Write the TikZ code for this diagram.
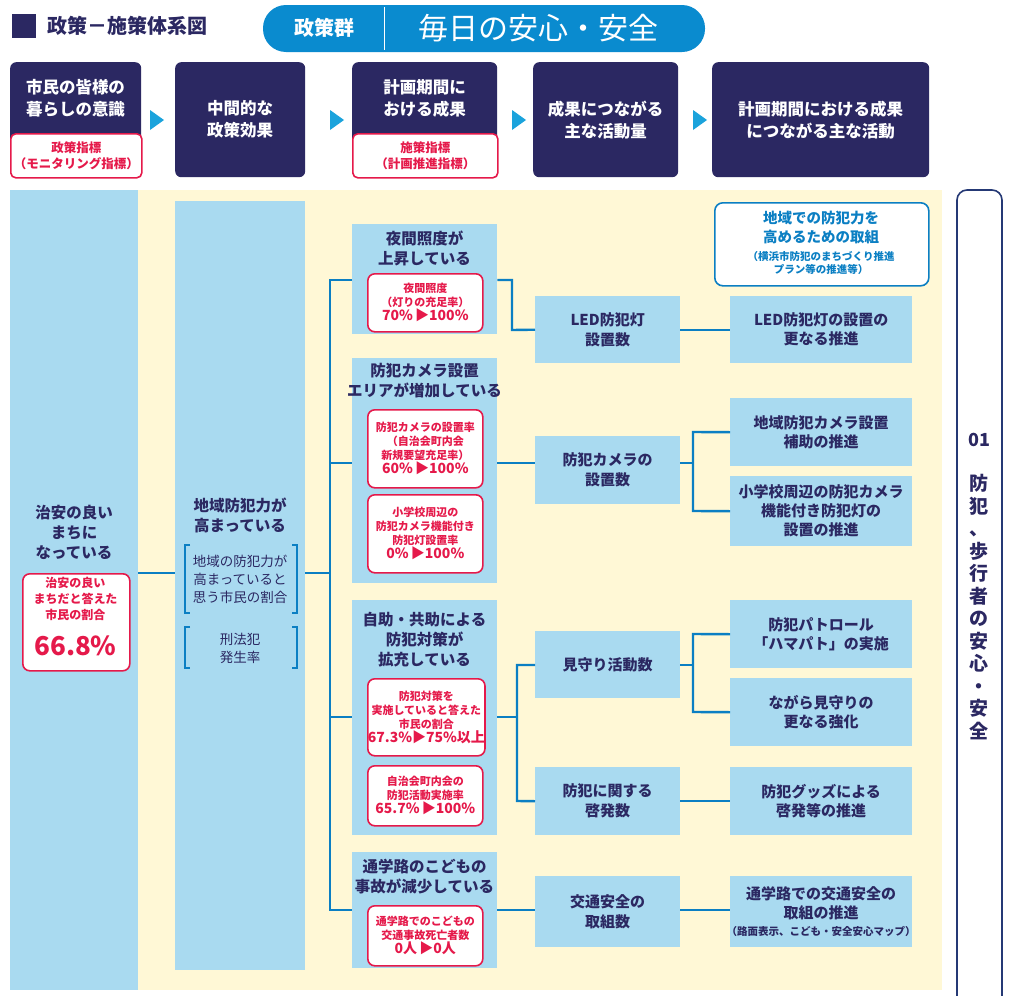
\documentclass[tikz,border=0pt]{standalone}
\usepackage{fontspec}
\setmainfont{Noto Sans CJK JP}
\usetikzlibrary{positioning}
\definecolor{navy}{HTML}{2B2862}
\definecolor{pill}{HTML}{0A8BCF}
\definecolor{lblue}{HTML}{A9DAF0}
\definecolor{cream}{HTML}{FFF8D6}
\definecolor{pink}{HTML}{E5194A}
\definecolor{wireblue}{HTML}{0B7FC3}
\definecolor{tri}{HTML}{1BA3DC}
\tikzset{
  head/.style={fill=navy, rounded corners=6pt, text=white, font=\bfseries\fontsize{16.5}{22}\selectfont, align=center, anchor=north west, inner sep=0pt},
  bluebox/.style={fill=lblue, anchor=north west, inner sep=0pt},
  rbox/.style={draw=pink, line width=1.6pt, fill=white, rounded corners=7pt, anchor=north west, inner sep=0pt, text=pink, align=center, font=\bfseries\fontsize{11}{14}\selectfont},
  ttl/.style={text=navy, align=center, font=\bfseries\fontsize{15.5}{20}\selectfont},
  wire/.style={draw=wireblue, line width=2.4pt},
  bkt/.style={draw=wireblue, line width=1.4pt},
}
\begin{document}
\begin{tikzpicture}[x=1pt,y=-1pt]
\useasboundingbox (0,0) rectangle (1010,996);
% title bar
\fill[navy] (12,14) rectangle (36,38);
\node[anchor=west, text=navy, font=\bfseries\fontsize{20}{22}\selectfont] (title) at (44,26) {政策－施策体系図};
\fill[pill, rounded corners=23pt] (263,5) rectangle (705,52);
\draw[white, line width=1pt] (384,7) -- (384,50);
\node[text=white, font=\bfseries\fontsize{20}{22}\selectfont] (group) at (324,28) {政策群};
\node[text=white, font=\fontsize{30}{32}\selectfont] (theme) at (538,28) {毎日の安心・安全};
% header row
\node[head, minimum width=131pt, minimum height=115pt] (h1) at (10,62) {};
\node[rbox, rounded corners=5pt, minimum width=131pt, minimum height=44pt, font=\bfseries\fontsize{12.5}{16}\selectfont] (h1i) at (10,133) {政策指標\\（モニタリング指標）};
\node[text=white, align=center, font=\bfseries\fontsize{16.5}{22}\selectfont] at (75.5,98) {市民の皆様の\\暮らしの意識};
\node[head, minimum width=130pt, minimum height=115pt] (h2) at (175,62) {中間的な\\政策効果};
\node[head, minimum width=145pt, minimum height=115pt] (h3) at (352,62) {};
\node[rbox, rounded corners=5pt, minimum width=145pt, minimum height=44pt, font=\bfseries\fontsize{12.5}{16}\selectfont] (h3i) at (352,133) {施策指標\\（計画推進指標）};
\node[text=white, align=center, font=\bfseries\fontsize{16.5}{22}\selectfont] at (424.5,98) {計画期間に\\おける成果};
\node[head, minimum width=145pt, minimum height=115pt] (h4) at (533,62) {成果につながる\\主な活動量};
\node[head, minimum width=217pt, minimum height=115pt] (h5) at (712,62) {計画期間における成果\\につながる主な活動};
\foreach \x in {150,330,512,693}
  \fill[tri] (\x,110) -- (\x+14,120) -- (\x,130) -- cycle;
% backgrounds
\fill[cream] (138,190) rectangle (942,990);
\node[bluebox, minimum width=128pt, minimum height=800pt] (c1) at (10,190) {};
\node[bluebox, minimum width=130pt, minimum height=769pt] (c2) at (175,201) {};
\draw[navy!80!wireblue, line width=1.6pt, rounded corners=10pt, fill=white] (957,1010) -- (957,190) -- (1002,190) -- (1002,1010);
\node[text=navy, font=\bfseries\fontsize{18}{20}\selectfont] (num) at (979,440) {01};
\node[text=navy, align=center, font=\bfseries\fontsize{19}{22.5}\selectfont] (sec) at (979,607) {防\\犯\\、\\歩\\行\\者\\の\\安\\心\\・\\安\\全};
% column 1
\node[ttl] (c1t) at (74,532) {治安の良い\\まちに\\なっている};
\node[rbox, minimum width=107pt, minimum height=97pt] (c1r) at (22,573) {};
\node[text=pink, align=center, font=\bfseries\fontsize{12}{16}\selectfont] at (75.5,599) {治安の良い\\まちだと答えた\\市民の割合};
\node[text=pink, font=\bfseries\fontsize{26}{28}\selectfont] at (75.5,646) {66.8\%};
% column 2
\node[ttl] (c2t) at (240,515) {地域防犯力が\\高まっている};
\node[text=navy, align=center, font=\fontsize{13.5}{18}\selectfont] (m1) at (240,579) {地域の防犯力が\\高まっていると\\思う市民の割合};
\node[text=navy, align=center, font=\fontsize{13.5}{18}\selectfont] (m2) at (240,648) {刑法犯\\発生率};
\foreach \a/\b in {545/613,627/668}{
  \draw[bkt] (190,\a) -- (185,\a) -- (185,\b) -- (190,\b);
  \draw[bkt] (292,\a) -- (297,\a) -- (297,\b) -- (292,\b);
}
% column 3
\node[bluebox, minimum width=145pt, minimum height=110pt] (sA) at (352,224) {};
\node[ttl] at (424.5,248) {夜間照度が\\上昇している};
\node[rbox, minimum width=115pt, minimum height=58pt] (iA) at (367,273) {夜間照度\\（灯りの充足率）\\{\fontsize{14}{16}\selectfont 70\%\,▶100\%}};
\node[bluebox, minimum width=145pt, minimum height=225pt] (sB) at (352,358) {};
\node[ttl] at (424.5,381) {防犯カメラ設置\\エリアが増加している};
\node[rbox, minimum width=115pt, minimum height=78pt] (iB1) at (367,409) {防犯カメラの設置率\\（自治会町内会\\新規要望充足率）\\{\fontsize{14}{16}\selectfont 60\%\,▶100\%}};
\node[rbox, minimum width=115pt, minimum height=78pt] (iB2) at (367,494) {小学校周辺の\\防犯カメラ機能付き\\防犯灯設置率\\{\fontsize{14}{16}\selectfont 0\%\,▶100\%}};
\node[bluebox, minimum width=145pt, minimum height=235pt] (sC) at (352,600) {};
\node[ttl] at (424.5,640) {自助・共助による\\防犯対策が\\拡充している};
\node[rbox, minimum width=115pt, minimum height=77pt] (iC1) at (367,678) {防犯対策を\\実施していると答えた\\市民の割合\\{\fontsize{14}{16}\selectfont 67.3\%▶75\%以上}};
\node[rbox, minimum width=115pt, minimum height=60pt] (iC2) at (367,765) {自治会町内会の\\防犯活動実施率\\{\fontsize{14}{16}\selectfont 65.7\%\,▶100\%}};
\node[bluebox, minimum width=145pt, minimum height=116pt] (sD) at (352,852) {};
\node[ttl] at (424.5,877) {通学路のこどもの\\事故が減少している};
\node[rbox, minimum width=115pt, minimum height=60pt] (iD) at (367,905) {通学路でのこどもの\\交通事故死亡者数\\{\fontsize{14}{16}\selectfont 0人\,▶0人}};
% column 4
\foreach \n/\y/\h/\t in {a1/296/67/{LED防犯灯\\設置数}, b1/436/68/{防犯カメラの\\設置数}, c1/631/67/{見守り活動数}, c2/767/68/{防犯に関する\\啓発数}, d1/876/71/{交通安全の\\取組数}}
  \node[bluebox, minimum width=145pt, minimum height=\h pt, ttl, font=\bfseries\fontsize{15}{20}\selectfont] (q\n) at (535,\y) {\t};
% column 5
\foreach \n/\y/\h/\t in {a1/296/67/{LED防犯灯の設置の\\更なる推進}, b1/398/68/{地域防犯カメラ設置\\補助の推進}, b2/476/70/{小学校周辺の防犯カメラ\\機能付き防犯灯の\\設置の推進}, c1/600/68/{防犯パトロール\\「ハマパト」の実施}, c2/678/68/{ながら見守りの\\更なる強化}, c3/767/68/{防犯グッズによる\\啓発等の推進}}
  \node[bluebox, minimum width=182pt, minimum height=\h pt, ttl, font=\bfseries\fontsize{15}{19}\selectfont] (r\n) at (730,\y) {\t};
\node[bluebox, minimum width=182pt, minimum height=71pt] (rd1) at (730,876) {};
\node[ttl, font=\bfseries\fontsize{15}{19}\selectfont] at (821,903) {通学路での交通安全の\\取組の推進};
\node[text=navy, font=\bfseries\fontsize{10.5}{12}\selectfont] at (821,931) {（路面表示、こども・安全安心マップ）};
% note box
\node[draw=wireblue, line width=1.6pt, fill=white, rounded corners=8pt, minimum width=214pt, minimum height=83pt, anchor=north west, inner sep=0pt] (note) at (714,202) {};
\node[text=wireblue, align=center, font=\bfseries\fontsize{14.5}{19}\selectfont] at (821,227) {地域での防犯力を\\高めるための取組};
\node[text=wireblue, align=center, font=\bfseries\fontsize{10.5}{13}\selectfont] at (821,263) {（横浜市防犯のまちづくり推進\\プラン等の推進等）};
% connectors
\draw[wire] (c1.east |- 0,573) -- (c2.west |- 0,573);
\draw[wire] (c2.east |- 0,573) -- (330,573);
\draw[wire] (352,280) -- (330,280) -- (330,910) -- (352,910);
\draw[wire] (330,463) -- (sB.west |- 0,463);
\draw[wire] (330,717) -- (sC.west |- 0,717);
\draw[wire] (sA.east |- 0,280) -- (512,280) -- (512,330) -- (qa1.west);
\draw[wire] (qa1.east) -- (ra1.west);
\draw[wire] (sB.east |- 0,463) -- (qb1.west |- 0,463);
\draw[wire] (qb1.east |- 0,463) -- (693,463);
\draw[wire] (rb1.west) -- (693,432) -- (693,511) -- (rb2.west);
\draw[wire] (sC.east |- 0,717) -- (517,717);
\draw[wire] (qc1.west |- 0,665) -- (517,665) -- (517,801) -- (qc2.west);
\draw[wire] (qc1.east |- 0,665) -- (693,665);
\draw[wire] (rc1.west) -- (693,634) -- (693,712) -- (rc2.west);
\draw[wire] (qc2.east) -- (rc3.west);
\draw[wire] (sD.east |- 0,910) -- (qd1.west |- 0,910);
\draw[wire] (qd1.east |- 0,910) -- (rd1.west |- 0,910);
\end{tikzpicture}
\end{document}
